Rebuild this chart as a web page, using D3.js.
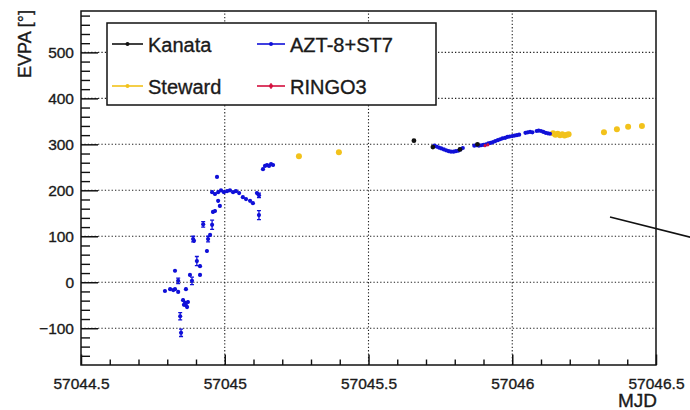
<!DOCTYPE html>
<html><head><meta charset="utf-8">
<script src="https://cdn.jsdelivr.net/npm/d3@7"></script>
<style>
body{margin:0;background:#fff}
svg{display:block}
text{font-family:"Liberation Sans",Arial,Helvetica,sans-serif;fill:#1a1a1a;stroke:#1a1a1a;stroke-width:0.35px}
</style>
</head><body>
<svg id="chart" width="690" height="410"></svg>
<script>
// Axis setup
const xDomain = [57044.5, 57046.5];
const yDomain = [-180, 590];
const xMajorTicks = [57044.5, 57045, 57045.5, 57046, 57046.5];
const xTickLabels = ["57044.5", "57045", "57045.5", "57046", "57046.5"];
const yMajorTicks = [-100, 0, 100, 200, 300, 400, 500];
const yTickLabels = ["\u2212100", "0", "100", "200", "300", "400", "500"];

// Kanata
const kanataMJD  = [57045.658, 57045.724, 57045.818, 57045.879];
const kanataEVPA = [308, 294, 289, 300];
const kanataErr  = [3, 3, 3, 3];

// AZT-8+ST7
const aztMJD = [
  57044.792, 57044.810, 57044.821, 57044.827, 57044.838, 57044.827, 57044.838, 57044.865,
  57044.855, 57044.862, 57044.865, 57044.872, 57044.869, 57044.858, 57044.845, 57044.848,
  57044.879, 57044.886, 57044.890, 57044.893, 57044.903, 57044.914, 57044.914, 57044.925,
  57044.938, 57044.942, 57044.949, 57044.956, 57044.959, 57044.966, 57044.973, 57044.977,
  57044.983, 57044.956, 57044.966, 57044.977, 57044.987, 57044.997, 57045.008, 57045.018,
  57045.029, 57045.039, 57045.050, 57045.063, 57045.074, 57045.088, 57045.098, 57045.112,
  57045.119, 57045.119, 57045.133, 57045.140, 57045.147, 57045.154, 57045.161, 57045.168,
  57045.729, 57045.737, 57045.745, 57045.753, 57045.762, 57045.770, 57045.779, 57045.787,
  57045.796, 57045.804, 57045.812, 57045.820, 57045.828,
  57045.868, 57045.876, 57045.884, 57045.892, 57045.900, 57045.909, 57045.917, 57045.925,
  57045.933, 57045.941, 57045.950, 57045.958, 57045.966, 57045.975, 57045.983, 57045.991,
  57046.000, 57046.008, 57046.016, 57046.024,
  57046.046, 57046.054, 57046.062, 57046.070, 57046.085, 57046.092, 57046.100, 57046.108,
  57046.116, 57046.124, 57046.131
];
const aztEVPA = [
  -19, -15, -17, -15, -21, 25, 3, -15,
  -39, -45, -50, -43, -54, -49, -74, -110,
  16, 3, 94, 90, 46, 35, 16, 126,
  68, 94, 103, 125, 153, 155, 229, 177,
  166, 196, 192, 196, 200, 196, 198, 200,
  196, 198, 194, 185, 181, 177, 172, 194,
  189, 146, 246, 253, 255, 253, 257, 255,
  297, 295, 293, 291, 289, 287, 285, 284,
  284, 285, 286, 289, 292,
  297, 298, 297, 298, 299, 300, 302, 303,
  305, 307, 309, 311, 313, 314, 316, 317,
  318, 319, 320, 321,
  325, 326, 327, 326, 329, 330, 329, 327,
  325, 324, 323
];
const aztErr = [
  3, 3, 3, 3, 3, 3, 6, 4,
  4, 4, 4, 4, 4, 4, 8, 8,
  3, 8, 6, 4, 10, 4, 3, 6,
  4, 6, 4, 10, 4, 4, 3, 4,
  4, 4, 4, 3, 3, 3, 3, 3,
  3, 3, 3, 3, 3, 3, 3, 3,
  5, 10, 3, 3, 3, 3, 3, 3,
  2, 2, 2, 2, 2, 2, 2, 2,
  2, 2, 2, 2, 2,
  2, 2, 2, 2, 2, 2, 2, 2,
  2, 2, 2, 2, 2, 2, 2, 2,
  2, 2, 2, 2,
  2, 2, 2, 2, 2, 2, 2, 2,
  2, 2, 2
];

// Steward
const stewardMJD  = [57045.258, 57045.397, 57046.142, 57046.150, 57046.158, 57046.166, 57046.174,
                     57046.182, 57046.190, 57046.196, 57046.319, 57046.364, 57046.403, 57046.451];
const stewardEVPA = [274, 283, 324, 321, 323, 320, 322, 319, 321, 322, 326, 333, 338, 340];
const stewardErr  = [2, 2, 2, 2, 2, 2, 2, 2, 2, 2, 2, 2, 2, 2];

// RINGO3
const ringoMJD  = [57045.905, 57045.915];
const ringoEVPA = [297, 299];
const ringoErr  = [3, 3];

const seriesNames  = ["Kanata", "AZT-8+ST7", "Steward", "RINGO3"];
const seriesColors = ["#111111", "#1010d8", "#f2c21b", "#d4103e"];

// Annotation stroke crossing the right frame edge (data units)
const pointerMJD  = [57046.34, 57046.62];
const pointerEVPA = [142, 98];

const margin = {left: 81, right: 34, top: 11, bottom: 45};
const W = 690, H = 410;
const svg = d3.select("#chart");

const x = d3.scaleLinear().domain(xDomain).range([margin.left, W - margin.right]);
const y = d3.scaleLinear().domain(yDomain).range([H - margin.bottom, margin.top]);
const x0 = x.range()[0], x1 = x.range()[1], y0 = y.range()[0], y1 = y.range()[1];

// Dotted grid
const grid = svg.append("g").attr("stroke", "#222").attr("stroke-width", 1.1).attr("stroke-dasharray", "1.3,2.1");
grid.selectAll("line.gx").data(xMajorTicks.slice(1, -1)).join("line")
  .attr("x1", d => x(d)).attr("x2", d => x(d)).attr("y1", y0).attr("y2", y1);
grid.selectAll("line.gy").data(yMajorTicks).join("line")
  .attr("x1", x0).attr("x2", x1).attr("y1", d => y(d)).attr("y2", d => y(d));

// Minor ticks
const yMinor = d3.range(-160, 590, 20).filter(v => v % 100 !== 0);
const xMinor = d3.range(0, 21).map(i => 57044.5 + i * 0.1).filter((v, i) => i % 5 !== 0);

const yMinorAxis = d3.axisLeft(y).tickValues(yMinor).tickSize(-9).tickFormat("");
svg.append("g").attr("transform", `translate(${x0},0)`).call(yMinorAxis)
  .call(g => g.select(".domain").remove())
  .selectAll("line").attr("stroke", "#111").attr("stroke-width", 1.4);

const xMinorAxis = d3.axisBottom(x).tickValues(xMinor).tickSize(-5.5).tickFormat("");
svg.append("g").attr("transform", `translate(0,${y0})`).call(xMinorAxis)
  .call(g => g.select(".domain").remove())
  .selectAll("line").attr("stroke", "#111").attr("stroke-width", 1.4);

// Major axes
const yAxis = d3.axisLeft(y).tickValues(yMajorTicks).tickSize(-17).tickPadding(7)
  .tickFormat((d, i) => yTickLabels[i]);
svg.append("g").attr("transform", `translate(${x0},0)`).call(yAxis)
  .call(g => g.select(".domain").remove())
  .call(g => g.selectAll("line").attr("stroke", "#111").attr("stroke-width", 1.5))
  .call(g => g.selectAll("text").attr("font-size", 15.5).attr("fill", "#1a1a1a")
    .attr("font-family", '"Liberation Sans",Arial,sans-serif'));

const xAxis = d3.axisBottom(x).tickValues(xMajorTicks).tickSize(-10.5).tickPadding(13)
  .tickFormat((d, i) => xTickLabels[i]);
svg.append("g").attr("transform", `translate(0,${y0})`).call(xAxis)
  .call(g => g.select(".domain").remove())
  .call(g => g.selectAll("line").attr("stroke", "#111").attr("stroke-width", 1.5))
  .call(g => g.selectAll("text").attr("font-size", 15.5).attr("fill", "#1a1a1a")
    .attr("font-family", '"Liberation Sans",Arial,sans-serif'));

// Frame
svg.append("rect").attr("x", x0).attr("y", y1).attr("width", x1 - x0).attr("height", y0 - y1)
  .attr("fill", "none").attr("stroke", "#111").attr("stroke-width", 1.5);

// Axis titles
svg.append("text").attr("transform", `translate(31,${y1 - 1}) rotate(-90)`)
  .attr("text-anchor", "end").attr("font-size", 18).text("EVPA [\u00b0]");
svg.append("text").attr("x", x1 + 1).attr("y", 407)
  .attr("text-anchor", "end").attr("font-size", 19).text("MJD");

// Data series
function drawSeries(mjd, evpa, err, color, r) {
  const pts = mjd.map((m, i) => ({m, v: evpa[i], e: err[i]}));
  const g = svg.append("g");
  g.selectAll("line.eb").data(pts).join("line")
    .attr("x1", d => x(d.m)).attr("x2", d => x(d.m))
    .attr("y1", d => y(d.v - d.e)).attr("y2", d => y(d.v + d.e))
    .attr("stroke", color).attr("stroke-width", 1.3);
  g.selectAll("path.cap").data(pts.filter(d => d.e >= 5)).join("path")
    .attr("d", d => `M${x(d.m) - 2},${y(d.v - d.e)}h4M${x(d.m) - 2},${y(d.v + d.e)}h4`)
    .attr("stroke", color).attr("stroke-width", 1.3);
  g.selectAll("circle").data(pts).join("circle")
    .attr("cx", d => x(d.m)).attr("cy", d => y(d.v)).attr("r", r).attr("fill", color);
}
drawSeries(stewardMJD, stewardEVPA, stewardErr, seriesColors[2], 3);
drawSeries(aztMJD, aztEVPA, aztErr, seriesColors[1], 2.1);
drawSeries(kanataMJD, kanataEVPA, kanataErr, seriesColors[0], 2.4);
drawSeries(ringoMJD, ringoEVPA, ringoErr, seriesColors[3], 1.5);

// Pointer stroke
svg.append("line")
  .attr("x1", x(pointerMJD[0])).attr("y1", y(pointerEVPA[0]))
  .attr("x2", x(pointerMJD[1])).attr("y2", y(pointerEVPA[1]))
  .attr("stroke", "#111").attr("stroke-width", 1.6);

// Legend
const legend = svg.append("g");
legend.append("rect").attr("x", 107).attr("y", 23).attr("width", 329).attr("height", 82)
  .attr("fill", "#fff").attr("stroke", "#111").attr("stroke-width", 1.5);
const legendPos = [
  {lx: 112, ly: 44, tx: 148},
  {lx: 257, ly: 44, tx: 290},
  {lx: 112, ly: 86, tx: 148},
  {lx: 257, ly: 86, tx: 290}
];
seriesNames.forEach((name, i) => {
  const p = legendPos[i];
  const len = i % 2 === 0 ? 31 : 28;
  legend.append("line").attr("x1", p.lx).attr("x2", p.lx + len).attr("y1", p.ly).attr("y2", p.ly)
    .attr("stroke", seriesColors[i]).attr("stroke-width", 1.6);
  legend.append("circle").attr("cx", p.lx + len / 2).attr("cy", p.ly).attr("r", 2)
    .attr("fill", seriesColors[i]);
  if (name === "RINGO3") {
    legend.append("line").attr("x1", p.lx + len / 2).attr("x2", p.lx + len / 2)
      .attr("y1", p.ly - 3).attr("y2", p.ly + 3).attr("stroke", seriesColors[i]).attr("stroke-width", 1.2);
  }
  legend.append("text").attr("x", p.tx).attr("y", p.ly + 8).attr("font-size", 20).text(name);
});
</script>
</body></html>
